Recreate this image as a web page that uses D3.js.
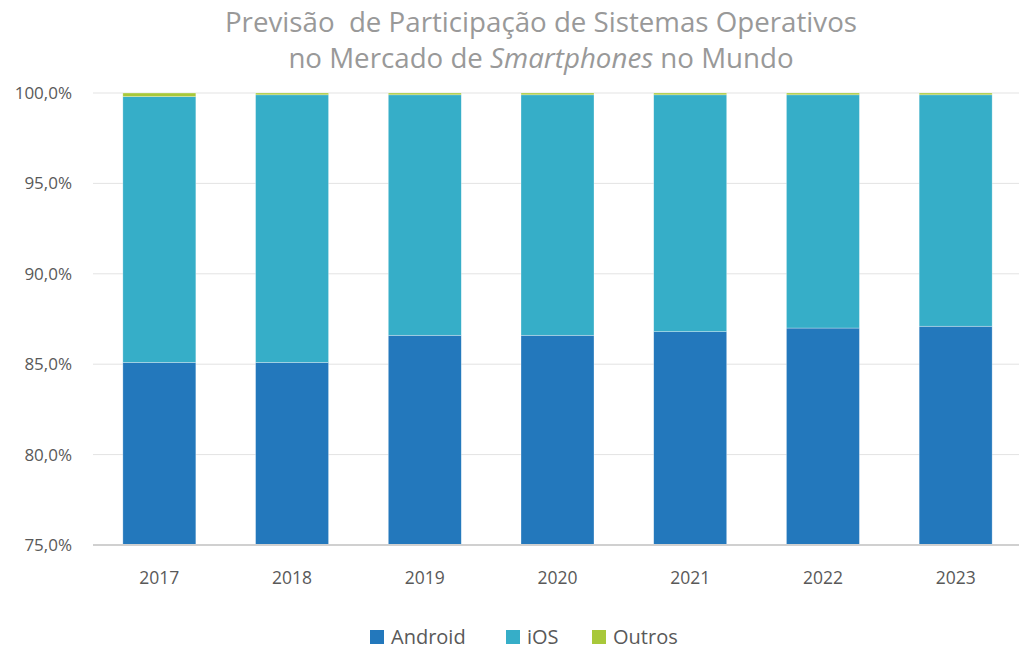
<!DOCTYPE html>
<html>
<head>
<meta charset="utf-8">
<script src="https://cdn.jsdelivr.net/npm/d3@7"></script>
<style>
  body { margin: 0; background: #fff; }
  text { font-family: "Open Sans", "Noto Sans", sans-serif; }
</style>
</head>
<body>
<div id="chart"></div>
<script>
// values (%)
let years = ['2017', '2018', '2019', '2020', '2021', '2022', '2023']
let android = [85.1, 85.1, 86.6, 86.6, 86.8, 87.0, 87.1]
let ios = [14.7, 14.8, 13.3, 13.3, 13.1, 12.9, 12.8]
let outros = [0.2, 0.1, 0.1, 0.1, 0.1, 0.1, 0.1]
let seriesNames = ['Android', 'iOS', 'Outros']
let yTicks = [75, 80, 85, 90, 95, 100]

let width = 1019
let height = 649
let margin = {top: 93, right: -3, bottom: 104, left: 93}

let colors = d3.scaleOrdinal().domain(seriesNames).range(['#2378bc', '#36aec8', '#a8c83a'])

let rows = years.map((y, i) => ({year: y, Android: android[i], iOS: ios[i], Outros: outros[i]}))
let stacked = d3.stack().keys(seriesNames)(rows)

let svg = d3.select('#chart').append('svg').attr('width', width).attr('height', height)

let x = d3.scaleBand().domain(years).range([margin.left, width - margin.right])
    .paddingInner(0.45).paddingOuter(0.225)
let y = d3.scaleLinear().domain([75, 100]).range([height - margin.bottom, margin.top])

// gridlines
svg.append('g').selectAll('line').data(yTicks.slice(1)).enter().append('line')
    .attr('x1', margin.left).attr('x2', width - margin.right)
    .attr('y1', d => y(d)).attr('y2', d => y(d))
    .attr('stroke', '#e3e3e3').attr('stroke-width', 1)

// bars, clipped to the axis range like the original
svg.append('clipPath').attr('id', 'plot').append('rect')
    .attr('x', 0).attr('y', y(100) - 2).attr('width', width).attr('height', y(75) - y(100) + 2)

let layers = svg.append('g').attr('clip-path', 'url(#plot)')
    .selectAll('g').data(stacked).enter().append('g')
    .attr('fill', d => colors(d.key))
layers.selectAll('rect').data(d => d).enter().append('rect')
    .attr('x', d => x(d.data.year))
    .attr('width', x.bandwidth())
    .attr('y', d => y(d[1]))
    .attr('height', d => y(d[0]) - y(d[1]))
    .attr('stroke', '#ffffff').attr('stroke-opacity', 0.5).attr('stroke-width', 0.6)

// bottom axis line
svg.append('line')
    .attr('x1', margin.left).attr('x2', width - margin.right)
    .attr('y1', y(75)).attr('y2', y(75))
    .attr('stroke', '#d0d0d0').attr('stroke-width', 2)

// y labels
let fmt = d => d.toFixed(1).replace('.', ',') + '%'
svg.append('g').selectAll('text').data(yTicks).enter().append('text')
    .attr('x', 72).attr('y', d => y(d)).attr('dy', '0.35em')
    .attr('text-anchor', 'end').attr('font-size', 17).attr('fill', '#595959')
    .text(fmt)

// x labels
svg.append('g').selectAll('text').data(years).enter().append('text')
    .attr('x', d => x(d) + x.bandwidth() / 2).attr('y', 584)
    .attr('text-anchor', 'middle').attr('font-size', 17.5).attr('fill', '#595959')
    .text(d => d)

// title
let title = svg.append('text').attr('text-anchor', 'middle').attr('font-size', 27.7).attr('fill', '#999999')
title.append('tspan').attr('x', 541).attr('y', 32).attr('xml:space', 'preserve')
    .text('Previsão  de Participação de Sistemas Operativos')
let line2 = title.append('tspan').attr('x', 541).attr('y', 68)
line2.append('tspan').text('no Mercado de ')
line2.append('tspan').attr('font-style', 'italic').text('Smartphones')
line2.append('tspan').text(' no Mundo')

// legend
let legendX = [370, 506, 592]
let legend = svg.append('g').selectAll('g').data(seriesNames).enter().append('g')
    .attr('transform', (d, i) => 'translate(' + legendX[i] + ', 630)')
legend.append('rect').attr('width', 14).attr('height', 14).attr('fill', d => colors(d))
legend.append('text').attr('x', 21).attr('y', 7).attr('dy', '0.36em')
    .attr('font-size', 20).attr('fill', '#595959').text(d => d)
</script>
</body>
</html>
